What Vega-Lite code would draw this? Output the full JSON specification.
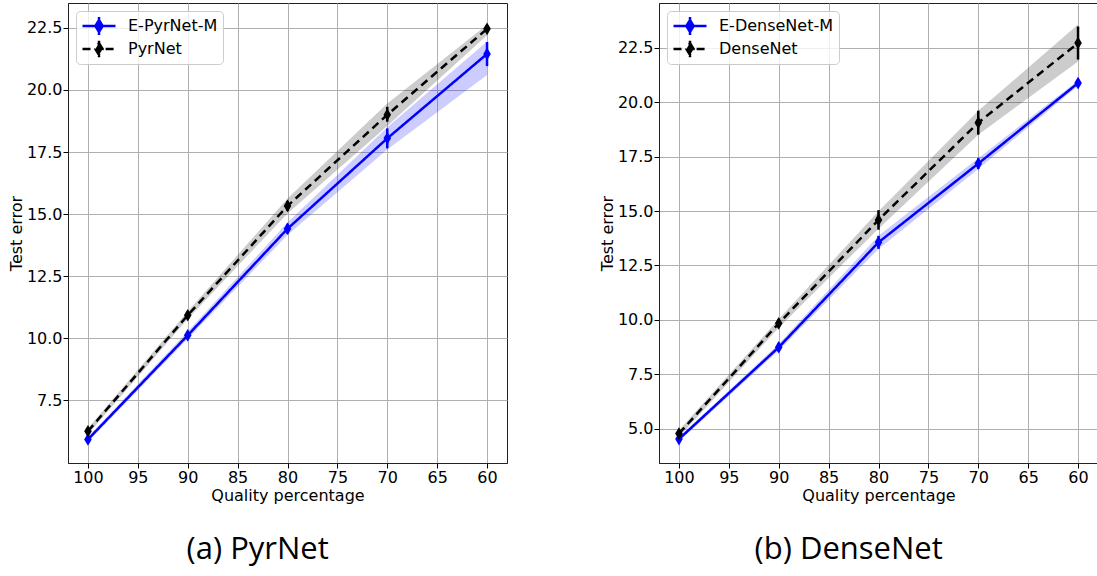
{
  "$schema": "https://vega.github.io/schema/vega-lite/v6.json",
  "background": "white",
  "padding": {"left": 7, "top": 2, "right": 0, "bottom": 14},
  "config": {
    "font": "DejaVu Sans",
    "view": {"stroke": "#222222", "strokeWidth": 1},
    "axis": {
      "labelFont": "DejaVu Sans",
      "labelFontSize": 16,
      "labelColor": "#000000",
      "labelPadding": 1,
      "labelFlush": false,
      "labelOverlap": false,
      "titleFont": "DejaVu Sans",
      "titleFontSize": 16,
      "titleFontWeight": "normal",
      "titleColor": "#000000",
      "titlePadding": 2,
      "gridColor": "#b0b0b0",
      "gridWidth": 1,
      "domainColor": "#222222",
      "tickColor": "#000000",
      "tickSize": 5
    },
    "legend": {
      "orient": "top-left",
      "offset": 8,
      "title": null,
      "labelFont": "DejaVu Sans",
      "labelFontSize": 16,
      "labelColor": "#000000",
      "labelOffset": 11,
      "symbolSize": 1089,
      "symbolStrokeWidth": 2.5,
      "fillColor": "rgba(255,255,255,0.8)",
      "strokeColor": "#cccccc",
      "cornerRadius": 4,
      "padding": 5,
      "clipHeight": 20,
      "rowPadding": 3
    },
    "concat": {"spacing": 90}
  },
  "datasets": {
    "pyr": [
      {"model": "E-PyrNet-M", "q": 100, "m": 5.93, "lo": 5.8, "hi": 6.06, "blo": 5.83, "bhi": 6.03},
      {"model": "E-PyrNet-M", "q": 90, "m": 10.12, "lo": 9.98, "hi": 10.26, "blo": 9.98, "bhi": 10.27},
      {"model": "E-PyrNet-M", "q": 80, "m": 14.41, "lo": 14.21, "hi": 14.61, "blo": 14.16, "bhi": 14.66},
      {"model": "E-PyrNet-M", "q": 70, "m": 18.05, "lo": 17.65, "hi": 18.45, "blo": 17.6, "bhi": 18.5},
      {"model": "E-PyrNet-M", "q": 60, "m": 21.45, "lo": 20.96, "hi": 21.93, "blo": 20.6, "bhi": 21.95},
      {"model": "PyrNet", "q": 100, "m": 6.26, "lo": 6.11, "hi": 6.41, "blo": 6.14, "bhi": 6.38},
      {"model": "PyrNet", "q": 90, "m": 10.93, "lo": 10.78, "hi": 11.08, "blo": 10.78, "bhi": 11.08},
      {"model": "PyrNet", "q": 80, "m": 15.33, "lo": 15.13, "hi": 15.53, "blo": 15.03, "bhi": 15.63},
      {"model": "PyrNet", "q": 70, "m": 19.0, "lo": 18.72, "hi": 19.32, "blo": 18.55, "bhi": 19.45},
      {"model": "PyrNet", "q": 60, "m": 22.46, "lo": 22.31, "hi": 22.61, "blo": 22.2, "bhi": 22.62}
    ],
    "dense": [
      {"model": "E-DenseNet-M", "q": 100, "m": 4.52, "lo": 4.37, "hi": 4.67, "blo": 4.42, "bhi": 4.62},
      {"model": "E-DenseNet-M", "q": 90, "m": 8.74, "lo": 8.54, "hi": 8.94, "blo": 8.59, "bhi": 8.89},
      {"model": "E-DenseNet-M", "q": 80, "m": 13.56, "lo": 13.26, "hi": 13.86, "blo": 13.26, "bhi": 13.86},
      {"model": "E-DenseNet-M", "q": 70, "m": 17.18, "lo": 16.93, "hi": 17.43, "blo": 16.93, "bhi": 17.43},
      {"model": "E-DenseNet-M", "q": 60, "m": 20.88, "lo": 20.7, "hi": 21.06, "blo": 20.76, "bhi": 21.0},
      {"model": "DenseNet", "q": 100, "m": 4.77, "lo": 4.62, "hi": 4.92, "blo": 4.62, "bhi": 4.92},
      {"model": "DenseNet", "q": 90, "m": 9.84, "lo": 9.64, "hi": 10.04, "blo": 9.64, "bhi": 10.04},
      {"model": "DenseNet", "q": 80, "m": 14.59, "lo": 14.14, "hi": 15.04, "blo": 14.19, "bhi": 14.99},
      {"model": "DenseNet", "q": 70, "m": 19.06, "lo": 18.51, "hi": 19.61, "blo": 18.51, "bhi": 19.61},
      {"model": "DenseNet", "q": 60, "m": 22.72, "lo": 21.96, "hi": 23.48, "blo": 21.87, "bhi": 23.57}
    ]
  },
  "hconcat": [
    {
      "width": 439,
      "height": 460,
      "data": {"name": "pyr"},
      "title": {"text": "(a) PyrNet", "orient": "bottom", "anchor": "middle", "frame": "bounds", "font": "Open Sans", "fontSize": 31, "fontWeight": "normal", "color": "#000000", "offset": 32},
      "encoding": {
        "x": {
          "field": "q", "type": "quantitative",
          "scale": {"domain": [102, 58], "nice": false, "zero": false},
          "axis": {"values": [100, 95, 90, 85, 80, 75, 70, 65, 60], "format": "d", "title": "Quality percentage"}
        }
      },
      "layer": [
        {
          "mark": {"type": "area", "opacity": 0.2},
          "encoding": {
            "y": {"field": "blo", "type": "quantitative", "scale": {"domain": [4.98, 23.5], "nice": false, "zero": false},
                  "axis": {"values": [7.5, 10, 12.5, 15, 17.5, 20, 22.5], "format": ".1f", "title": "Test error"}},
            "y2": {"field": "bhi"},
            "color": {"field": "model", "type": "nominal", "scale": {"domain": ["E-PyrNet-M", "PyrNet"], "range": ["#0000ff", "#000000"]}}
          }
        },
        {
          "mark": {"type": "line", "strokeWidth": 2.5},
          "encoding": {
            "y": {"field": "m", "type": "quantitative"},
            "color": {
              "field": "model", "type": "nominal",
              "legend": {
                "encode": {
                  "symbols": {
                    "update": {
                      "shape": [
                        {"test": "datum.value === 'PyrNet'", "value": "M-1,0L-0.4,0M0.4,0L1,0M0,-0.5L0,0.5M0,-0.36L0.22,0L0,0.36L-0.22,0Z"},
                        {"value": "M-1,0L1,0M0,-0.55L0,0.55M0,-0.36L0.22,0L0,0.36L-0.22,0Z"}
                      ],
                      "fill": [
                        {"test": "datum.value === 'PyrNet'", "value": "#000000"},
                        {"value": "#0000ff"}
                      ],
                      "stroke": [
                        {"test": "datum.value === 'PyrNet'", "value": "#000000"},
                        {"value": "#0000ff"}
                      ],
                      "opacity": {"value": 1},
                      "fillOpacity": {"value": 1},
                      "strokeOpacity": {"value": 1},
                      "strokeWidth": {"value": 2.5},
                      "strokeDash": {"value": [1, 0]}
                    }
                  }
                }
              }
            },
            "strokeDash": {"field": "model", "type": "nominal", "scale": {"domain": ["E-PyrNet-M", "PyrNet"], "range": [[1, 0], [8, 5]]}, "legend": null}
          }
        },
        {
          "mark": {"type": "rule", "strokeWidth": 2.5},
          "encoding": {
            "y": {"field": "lo", "type": "quantitative"},
            "y2": {"field": "hi"},
            "color": {"field": "model", "type": "nominal"}
          }
        },
        {
          "mark": {"type": "point", "shape": "M0,-1L0.6,0L0,1L-0.6,0Z", "filled": true, "opacity": 1, "size": 160},
          "encoding": {
            "y": {"field": "m", "type": "quantitative"},
            "color": {"field": "model", "type": "nominal"}
          }
        }
      ]
    },
    {
      "width": 439,
      "height": 460,
      "data": {"name": "dense"},
      "title": {"text": "(b) DenseNet", "orient": "bottom", "anchor": "middle", "frame": "bounds", "font": "Open Sans", "fontSize": 31, "fontWeight": "normal", "color": "#000000", "offset": 32},
      "encoding": {
        "x": {
          "field": "q", "type": "quantitative",
          "scale": {"domain": [102, 58], "nice": false, "zero": false},
          "axis": {"values": [100, 95, 90, 85, 80, 75, 70, 65, 60], "format": "d", "title": "Quality percentage"}
        }
      },
      "layer": [
        {
          "mark": {"type": "area", "opacity": 0.2},
          "encoding": {
            "y": {"field": "blo", "type": "quantitative", "scale": {"domain": [3.42, 24.56], "nice": false, "zero": false},
                  "axis": {"values": [5, 7.5, 10, 12.5, 15, 17.5, 20, 22.5], "format": ".1f", "title": "Test error"}},
            "y2": {"field": "bhi"},
            "color": {"field": "model", "type": "nominal", "scale": {"domain": ["E-DenseNet-M", "DenseNet"], "range": ["#0000ff", "#000000"]}}
          }
        },
        {
          "mark": {"type": "line", "strokeWidth": 2.5},
          "encoding": {
            "y": {"field": "m", "type": "quantitative"},
            "color": {
              "field": "model", "type": "nominal",
              "legend": {
                "encode": {
                  "symbols": {
                    "update": {
                      "shape": [
                        {"test": "datum.value === 'DenseNet'", "value": "M-1,0L-0.4,0M0.4,0L1,0M0,-0.5L0,0.5M0,-0.36L0.22,0L0,0.36L-0.22,0Z"},
                        {"value": "M-1,0L1,0M0,-0.55L0,0.55M0,-0.36L0.22,0L0,0.36L-0.22,0Z"}
                      ],
                      "fill": [
                        {"test": "datum.value === 'DenseNet'", "value": "#000000"},
                        {"value": "#0000ff"}
                      ],
                      "stroke": [
                        {"test": "datum.value === 'DenseNet'", "value": "#000000"},
                        {"value": "#0000ff"}
                      ],
                      "opacity": {"value": 1},
                      "fillOpacity": {"value": 1},
                      "strokeOpacity": {"value": 1},
                      "strokeWidth": {"value": 2.5},
                      "strokeDash": {"value": [1, 0]}
                    }
                  }
                }
              }
            },
            "strokeDash": {"field": "model", "type": "nominal", "scale": {"domain": ["E-DenseNet-M", "DenseNet"], "range": [[1, 0], [8, 5]]}, "legend": null}
          }
        },
        {
          "mark": {"type": "rule", "strokeWidth": 2.5},
          "encoding": {
            "y": {"field": "lo", "type": "quantitative"},
            "y2": {"field": "hi"},
            "color": {"field": "model", "type": "nominal"}
          }
        },
        {
          "mark": {"type": "point", "shape": "M0,-1L0.6,0L0,1L-0.6,0Z", "filled": true, "opacity": 1, "size": 160},
          "encoding": {
            "y": {"field": "m", "type": "quantitative"},
            "color": {"field": "model", "type": "nominal"}
          }
        }
      ]
    }
  ],
  "resolve": {
    "scale": {"x": "independent", "y": "independent", "color": "independent", "strokeDash": "independent"},
    "legend": {"color": "independent"}
  }
}
